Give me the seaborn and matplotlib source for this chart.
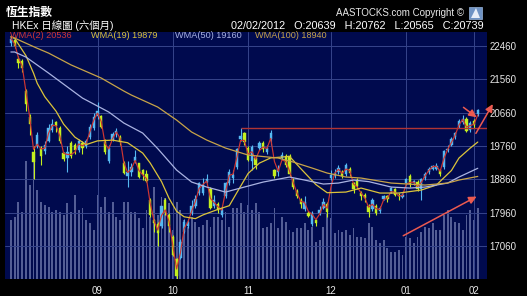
import numpy as np
import pandas as pd
import matplotlib
matplotlib.use("Agg")
import matplotlib.pyplot as plt
import seaborn as sns
from matplotlib.patches import Rectangle, Polygon

# ---------------- data ----------------
month_labels = ["09", "10", "11", "12", "01", "02"]
month_start_day = [23, 43, 63, 85, 105, 123]   # trading-day index of 1st session
price_ticks = [17060, 17960, 18860, 19760, 20660, 21560, 22460]

opens = [22550, 22620, 22100, 22050, 21250, 20550, 19600, 19750, 19700, 19620,
         19900, 20200, 20400, 20250, 19560, 19430, 19850, 19800, 19650, 19850,
         19750, 20000, 20250, 20570, 20570, 19880, 19350, 19920, 20100, 20000,
         19300, 18950, 19050, 19350, 19290, 19100, 19000, 18300, 17750, 17650,
         17600, 18300, 17900, 17300, 16700, 16750, 17450, 17600, 17950, 18150,
         18500, 18500, 18800, 18600, 18150, 18200, 17900, 18400, 18750, 18900,
         19200, 19950, 20100, 19700, 19350, 19450, 19700, 19850, 19600, 19950,
         19100, 19050, 19450, 19500, 19500, 18850, 18550, 18300, 18050, 17950,
         17650, 17750, 17950, 18100, 18200, 18900, 18950, 19050, 19050, 19000,
         19150, 18750, 18850, 18480, 18450, 18150, 18050, 18150, 18000, 18320,
         18420, 18550, 18600, 18450, 18380, 18750, 18950, 18750, 18800, 18600,
         18900, 19050, 19150, 19150, 19100, 19200, 19650, 19800, 20000, 20300,
         20400, 20500, 20200, 20450, 20639]
highs = [22760, 22700, 22180, 22120, 21300, 20620, 19750, 20150, 19750, 19900,
         20350, 20500, 20450, 20300, 19600, 19750, 19900, 19850, 19950, 19900,
         19950, 20350, 20650, 20950, 20600, 19950, 19800, 20150, 20250, 20050,
         19350, 19350, 19300, 19650, 19300, 19150, 19100, 18350, 17800, 17700,
         18150, 18350, 17950, 17350, 16750, 17250, 17800, 17800, 18300, 18450,
         18800, 18900, 19000, 18650, 18450, 18250, 18150, 18800, 19150, 19100,
         19700, 20250, 20150, 19750, 19800, 19500, 19900, 19900, 19800, 20200,
         19150, 19250, 19600, 19550, 19550, 18900, 18600, 18350, 18400, 18000,
         18000, 17800, 18150, 18350, 18250, 19100, 19150, 19250, 19100, 19300,
         19200, 18800, 18900, 18550, 18500, 18200, 18350, 18200, 18150, 18450,
         18450, 18650, 18620, 18500, 18480, 18900, 19000, 18850, 18850, 18900,
         19050, 19200, 19250, 19300, 19150, 19650, 19800, 20000, 20150, 20480,
         20600, 20550, 20450, 20500, 20762]
lows = [22450, 22400, 21880, 21750, 20700, 20050, 18870, 19700, 19250, 19550,
        19880, 20150, 20150, 19850, 19350, 19070, 19450, 19550, 19600, 19550,
        19700, 19950, 20200, 20500, 20250, 19550, 19300, 19900, 20000, 19800,
        19000, 18650, 18950, 19300, 18900, 18850, 18780, 17850, 17450, 17050,
        17550, 17900, 17450, 16800, 16170, 16700, 17400, 17550, 17900, 18100,
        18450, 18450, 18750, 18050, 18100, 17950, 17850, 18350, 18700, 18750,
        19150, 19900, 19800, 19350, 19100, 19150, 19650, 19600, 19550, 19800,
        18900, 18950, 19400, 19200, 18950, 18600, 18350, 18100, 18000, 17850,
        17600, 17600, 17900, 18050, 17850, 18850, 18900, 19000, 18900, 18950,
        18950, 18500, 18600, 18300, 18250, 17850, 18000, 17900, 17950, 18300,
        18250, 18500, 18400, 18300, 18350, 18700, 18650, 18700, 18550, 18300,
        18850, 19000, 19100, 19100, 18950, 19150, 19600, 19750, 19950, 20250,
        20350, 20150, 20150, 20250, 20565]
closes = [22663, 22450, 21990, 21880, 20900, 20350, 19330, 20050, 19500, 19800,
          20260, 20350, 20290, 19900, 19400, 19600, 19500, 19650, 19900, 19700,
          19900, 20280, 20550, 20700, 20280, 19600, 19720, 20080, 20170, 19870,
          19030, 19050, 19200, 19460, 18920, 19010, 18820, 17910, 17670, 17400,
          18130, 17990, 17590, 16820, 16250, 17170, 17710, 17710, 18140, 18330,
          18760, 18700, 18870, 18080, 18310, 18030, 18030, 18770, 19070, 18970,
          19690, 20020, 19860, 19370, 19730, 19240, 19840, 19680, 19700, 20100,
          18960, 19140, 19510, 19260, 19000, 18650, 18400, 18200, 18250, 17870,
          17940, 17690, 18040, 18260, 17990, 18990, 19040, 19180, 18940, 19240,
          19030, 18590, 18680, 18400, 18350, 17990, 18290, 17960, 18090, 18420,
          18330, 18630, 18450, 18400, 18430, 18880, 18730, 18810, 18590, 18870,
          19000, 19150, 19230, 19210, 19010, 19630, 19690, 19940, 20110, 20440,
          20500, 20160, 20390, 20330, 20739]
turnover = [59, 62, 77, 67, 118, 94, 117, 89, 77, 74, 72, 67, 69, 67, 64, 76,
            67, 84, 69, 71, 59, 56, 49, 84, 72, 82, 67, 77, 62, 59, 77,
            77, 67, 67, 61, 51, 69, 62, 92, 64, 82, 81, 76, 49, 77, 69, 59,
            52, 62, 57, 52, 54, 59, 52, 62, 62, 59, 67, 52, 71, 71, 76, 67,
            74, 69, 76, 67, 51, 52, 56, 71, 51, 62, 57, 49, 47, 51, 51, 56,
            49, 52, 37, 39, 52, 66, 61, 46, 49, 47, 49, 44, 51, 42,
            42, 41, 56, 52, 39, 36, 39, 31, 27, 27, 29, 24, 42, 41, 36, 42,
            47, 52, 51, 56, 49, 49, 64, 69, 62, 57, 56, 49, 64, 69, 59, 71]

wma19_day = [0, 1, 4, 6, 7, 9, 12, 14, 17, 20, 23, 27, 31, 35, 37, 40, 42, 44,
             46, 49, 51, 55, 58, 60, 63, 66, 69, 74, 77, 81, 84, 89, 93, 98,
             103, 109, 113, 117, 119, 122, 124]
wma19_val = [22700, 22668, 22200, 21731, 21453, 21091, 20700, 20350, 20000,
             19800, 19900, 19920, 19850, 19571, 19301, 18800, 18350, 18000,
             17850, 17800, 17900, 18050, 18150, 18500, 19020, 19300, 19440,
             19480, 19150, 18720, 18500, 18518, 18626, 18491, 18491, 18572,
             18707, 19100, 19436, 19706, 19868]
wma50_day = [0, 1, 4, 10, 19, 26, 30, 35, 39, 44, 48, 52, 57, 62, 67, 74, 78,
             83, 87, 91, 95, 101, 106, 110, 116, 119, 124]
wma50_val = [22300, 22300, 22163, 21731, 21056, 20678, 20381, 20111, 19690,
             19112, 18788, 18653, 18518, 18653, 18788, 18923, 18842, 18734,
             18761, 18842, 18800, 18653, 18626, 18653, 18761, 18923, 19160]
wma100_day = [0, 7, 10, 16, 24, 30, 32, 39, 44, 48, 52, 57, 63, 71, 75, 80, 84,
              89, 93, 101, 110, 116, 119, 124]
wma100_val = [22720, 22400, 22271, 21950, 21596, 21245, 21137, 20813, 20462,
              20138, 19922, 19706, 19517, 19436, 19328, 19166, 19031, 18923,
              18896, 18761, 18707, 18761, 18842, 18940]

resistance_day = 61
resistance_price = 20246
arrow_tail_day = [120.2, 123.5, 104.2]
arrow_tail_price = [20805, 20103, 17338]
arrow_head_day = [123.7, 128.0, 123.7]
arrow_head_price = [20535, 20894, 18397]

legend_texts = ["WMA(2) 20536", "WMA(19) 19879", "WMA(50) 19160", "WMA(100) 18940"]

# ---------------- styling ----------------
W, H = 527, 296
BG = "#000a4e"
UP = "#55b8f2"
DOWN = "#c4f01e"
C_WMA2 = "#d03632"
C_WMA19 = "#dcc43a"
C_WMA50 = "#aab3e2"
C_WMA100 = "#c8a448"
GRID = "#36448a"
VOLC = "#535d95"

sns.set_style("dark")
plt.rcParams["font.family"] = ["Liberation Sans", "Noto Sans CJK TC", "DejaVu Sans"]

fig = plt.figure(figsize=(W / 100, H / 100), dpi=100, facecolor="black")
L, R, T, B = 5, 487, 32, 279
rect = [L / W, 1 - B / H, (R - L) / W, (B - T) / H]
ax2 = fig.add_axes(rect)           # volume (behind)
ax = fig.add_axes(rect, sharex=ax2)  # price
ax2.set_facecolor(BG)
ax.patch.set_visible(False)

days = np.arange(len(closes))
df = pd.DataFrame({"day": days, "open": opens, "high": highs, "low": lows,
                   "close": closes, "turnover": turnover})

# volume bars
sns.barplot(data=df, x="day", y="turnover", native_scale=True, ax=ax2,
            color=VOLC, width=0.5, errorbar=None, saturation=1, linewidth=0)
ax2.set_ylim(0, B - T)
ax2.set_yticks([])
ax2.set_xlabel("")
ax2.set_ylabel("")
for s in ax2.spines.values():
    s.set_visible(False)

# grid
for p in price_ticks:
    ax.axhline(p, color=GRID, lw=0.7, zorder=1)
for d in month_start_day:
    ax.axvline(d, color=GRID, lw=0.7, zorder=1)

# candles
up = df["close"] >= df["open"]
cols = np.where(up, UP, DOWN)
ax.vlines(df["day"], df["low"], df["high"], colors=cols, lw=0.8, zorder=3)
body_lo = np.minimum(df["open"], df["close"])
body_h = np.maximum(np.abs(df["close"] - df["open"]), 25)
ax.bar(df["day"], body_h, bottom=body_lo, width=0.62, color=cols,
       edgecolor=cols, linewidth=0.3, zorder=4)

# moving averages
wma2 = [closes[0]] + [(2 * closes[k] + closes[k - 1]) / 3 for k in range(1, len(closes))]
sns.lineplot(x=days, y=wma2, ax=ax, color=C_WMA2, lw=0.85, zorder=5, estimator=None, sort=False)
sns.lineplot(x=wma19_day, y=wma19_val, ax=ax, color=C_WMA19, lw=0.9, zorder=5, estimator=None, sort=False)
sns.lineplot(x=wma50_day, y=wma50_val, ax=ax, color=C_WMA50, lw=0.9, zorder=5, estimator=None, sort=False)
sns.lineplot(x=wma100_day, y=wma100_val, ax=ax, color=C_WMA100, lw=0.9, zorder=5, estimator=None, sort=False)

# resistance line
xmin, xmax = -1.57, 126.45
ax.hlines(resistance_price, resistance_day, xmax, color="#b03434", lw=1.0, zorder=6)

# arrows
for tx, ty, hx, hy in zip(arrow_tail_day, arrow_tail_price, arrow_head_day, arrow_head_price):
    ax.annotate("", xy=(hx, hy), xytext=(tx, ty), annotation_clip=False, zorder=7,
                arrowprops=dict(arrowstyle="-|>,head_length=0.45,head_width=0.22",
                                color="#ec5a50", lw=1.1, shrinkA=0, shrinkB=0))

ax.set_xlim(xmin, xmax)
ax.set_ylim(16170, 22840)
ax.set_yticks(price_ticks)
ax.set_yticklabels([str(p) for p in price_ticks])
ax.yaxis.tick_right()
ax.set_xticks(month_start_day)
ax.set_xticklabels(month_labels)
ax.tick_params(axis="both", length=0, labelsize=7, colors="#e8e8e8")
ax.tick_params(axis="y", pad=2)
ax.tick_params(axis="x", pad=5)
ax2.tick_params(axis="x", length=0, labelbottom=False)
ax.set_xlabel("")
ax.set_ylabel("")
ax.grid(False)
ax2.grid(False)
for s in ax.spines.values():
    s.set_visible(False)

# texts
def px(x, y):
    return x / W, 1 - y / H

fig.text(*px(6, 12.5), "恆生指數", color="white", fontsize=8.5, fontweight="bold",
         family=["Noto Sans CJK TC"], va="center", ha="left")
fig.text(*px(12, 26), "HKEx 日線圖 (六個月)", color="white", fontsize=7.5,
         family=["Liberation Sans", "Noto Sans CJK TC"], va="center", ha="left")
fig.text(*px(484, 26), "02/02/2012   O:20639   H:20762   L:20565   C:20739",
         color="white", fontsize=7.8, va="center", ha="right")
fig.text(*px(464, 13), "AASTOCKS.com Copyright ©", color="#e8e8e8", fontsize=7,
         va="center", ha="right")
# small logo
fig.add_artist(Rectangle(px(469, 19), 13 / W, 12 / H, transform=fig.transFigure,
                         facecolor="#6f93c4", edgecolor="#9ab6dc", lw=0.5))
fig.add_artist(Polygon([px(471, 18), px(476, 8), px(480, 18)], closed=True,
                       transform=fig.transFigure, facecolor="#e8eef8", edgecolor="none"))

leg_x = [10, 91, 175, 255]
leg_c = [C_WMA2, C_WMA19, C_WMA50, C_WMA100]
for x, t, c in zip(leg_x, legend_texts, leg_c):
    fig.text(*px(x, 35.5), t, color=c, fontsize=6.6, va="center", ha="left")

fig.savefig("out.png", dpi=100, facecolor="black")
